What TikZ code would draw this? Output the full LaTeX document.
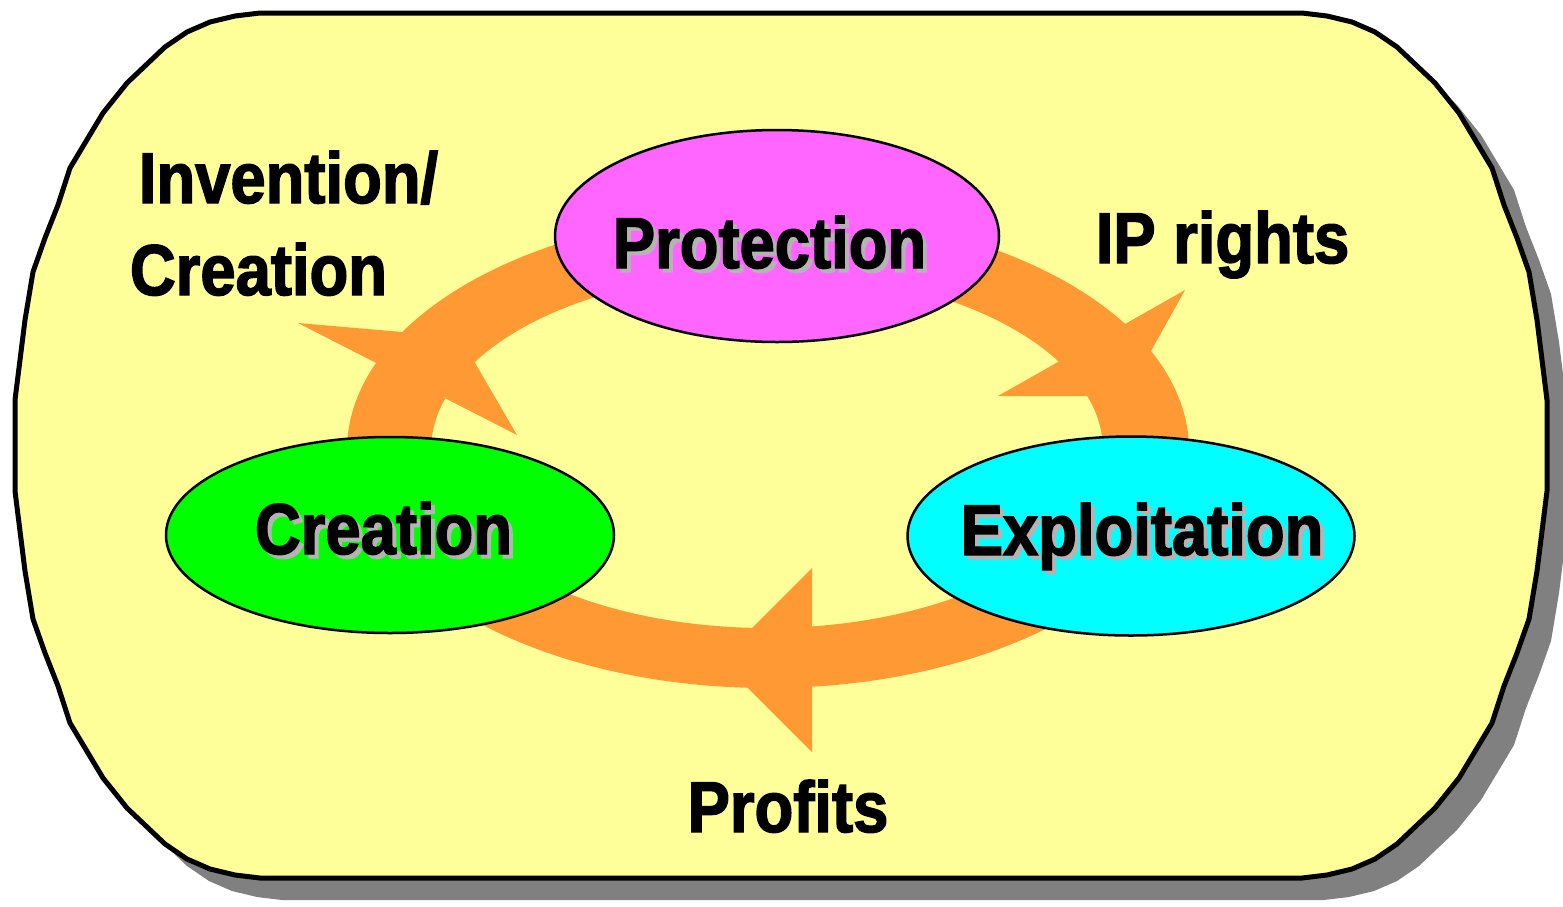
\documentclass[tikz,border=0pt]{standalone}
\usepackage{fontspec}
\newfontfamily\lab{Liberation Sans}[FakeStretch=0.88,FakeBold=2]
\usetikzlibrary{shapes.geometric}
\definecolor{bgyellow}{HTML}{FFFF99}
\definecolor{ringorange}{HTML}{FF9933}
\definecolor{protfill}{HTML}{FF66FF}
\definecolor{creafill}{HTML}{00FF00}
\definecolor{explfill}{HTML}{00FFFF}
\definecolor{shadowgray}{HTML}{808080}
\definecolor{txtshadow}{HTML}{B4B4B4}
\newcommand\myouter{(15,400) -- (25,320) -- (33,272) -- (45,238) -- (58,205) -- (70,168) -- (103,113) -- (127,83) -- (165,47) -- (187,32) -- (210,22) -- (235,16) -- (260,13)
 -- (1302,13) -- (1327,16) -- (1352,22) -- (1375,32) -- (1397,47) -- (1435,83) -- (1459,113) -- (1492,168) -- (1504,205) -- (1517,238) -- (1529,272) -- (1537,320) -- (1547,400)
 -- (1547,491) -- (1537,571) -- (1529,619) -- (1517,653) -- (1504,686) -- (1492,723) -- (1459,778) -- (1435,808) -- (1397,844) -- (1375,859) -- (1352,869) -- (1327,875) -- (1302,878)
 -- (260,878) -- (235,875) -- (210,869) -- (187,859) -- (165,844) -- (127,808) -- (103,778) -- (70,723) -- (58,686) -- (45,653) -- (33,619) -- (25,571) -- (15,491) -- cycle}
\newcommand\shadowed[1]{\rlap{\kern4pt\raisebox{-4pt}{\textcolor{txtshadow}{#1}}}#1}
\tikzset{
  lbl/.style={font=\lab\bfseries\fontsize{72}{80}\selectfont, inner sep=0pt, anchor=base, text=black},
  oval/.style={ellipse, draw=black, line width=2.5pt, inner sep=0pt},
}
\begin{document}
\begin{tikzpicture}[x=1pt, y=-1pt]
\useasboundingbox (0,0) rectangle (1563,906);
% outer panel with shadow
\fill[shadowgray, shift={(22,22)}] \myouter;
\draw[line width=5pt, fill=bgyellow] \myouter;
% orange ring
\fill[ringorange, even odd rule] (768,450) ellipse [x radius=421pt, y radius=238pt]
  (767,450) ellipse [x radius=336pt, y radius=178pt];
% arrowheads
\fill[ringorange] (298,323) -- (517,435) -- (460,337) -- cycle;
\fill[ringorange] (1185,290) -- (998,396) -- (1126,396) -- cycle;
\fill[ringorange] (812,568) -- (812,752) -- (720,660) -- cycle;
% ellipses
\node[oval, fill=protfill, minimum width=444pt, minimum height=212pt] (prot) at (777,236) {};
\node[oval, fill=creafill, minimum width=448pt, minimum height=196pt] (crea) at (390,535) {};
\node[oval, fill=explfill, minimum width=447pt, minimum height=199pt] (expl) at (1131,536) {};
% ellipse texts with shadows
\node[lbl] (protT) at (769.5,268) {\shadowed{Protection}};
\node[lbl] (creaT) at (383.5,554) {\shadowed{Creation}};
\node[lbl] (explT) at (1142,555) {\shadowed{Exploitation}};
% labels
\node[lbl] (inv) at (288.5,203) {Invention/};
\node[lbl] (invc) at (258.5,295) {Creation};
\node[lbl] (ip) at (1222.5,263) {IP rights};
\node[lbl] (prof) at (788,832) {Profits};
\end{tikzpicture}
\end{document}
